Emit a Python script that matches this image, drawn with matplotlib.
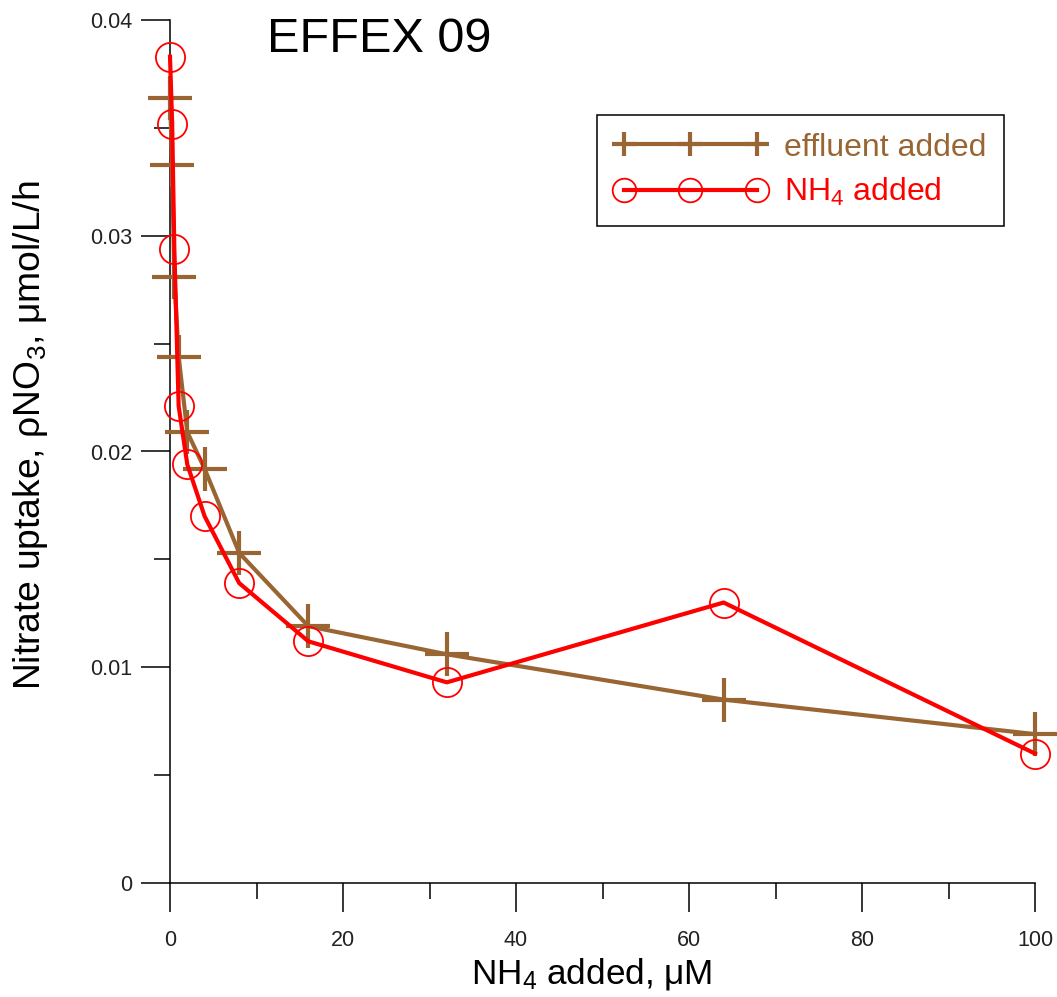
import numpy as np
import matplotlib
matplotlib.use('Agg')
import matplotlib.pyplot as plt
from matplotlib.lines import Line2D

plt.rcParams['font.family'] = ['Liberation Sans', 'DejaVu Sans']
plt.rcParams['mathtext.fontset'] = 'custom'
plt.rcParams['mathtext.rm'] = 'Liberation Sans'
plt.rcParams['mathtext.it'] = 'Liberation Sans:italic'

# NH4 additions (uM) and nitrate uptake for the two treatments
nh4_added = [0, 0.25, 0.5, 1, 2, 4, 8, 16, 32, 64, 100]
effluent_uptake = [0.0364, 0.0333, 0.0281, 0.0244, 0.0209, 0.0192,
                   0.0153, 0.0119, 0.0106, 0.0085, 0.0069]
nh4_uptake = [0.0383, 0.0352, 0.0294, 0.0221, 0.0194, 0.0170,
              0.0139, 0.0112, 0.0093, 0.0130, 0.0060]

x_ticks = [0, 20, 40, 60, 80, 100]
x_minor = [10, 30, 50, 70, 90]
y_ticks = [0, 0.01, 0.02, 0.03, 0.04]
y_tick_labels = ['0', '0.01', '0.02', '0.03', '0.04']
y_minor = [0.005, 0.015, 0.025, 0.035]

brown = '#996633'
red = '#ff0000'

W, H = 1057, 997
fig = plt.figure(figsize=(W / 100, H / 100), dpi=100)
ax = fig.add_axes([170 / W, 1 - 883 / H, 865 / W, 863 / H])

ax.plot(nh4_added, effluent_uptake, color=brown, lw=3, marker='+',
        ms=31, mew=3, clip_on=False, zorder=3)
ax.plot(nh4_added, nh4_uptake, color=red, lw=3, marker='o', ms=21,
        mfc='none', mec=red, mew=1.3, clip_on=False, zorder=4)

ax.set_xlim(0, 100)
ax.set_ylim(0, 0.04)
ax.set_xticks(x_ticks)
ax.set_xticks(x_minor, minor=True)
ax.set_yticks(y_ticks)
ax.set_yticklabels(y_tick_labels)
ax.set_yticks(y_minor, minor=True)

for s in ['top', 'right']:
    ax.spines[s].set_visible(False)
for s in ['left', 'bottom']:
    ax.spines[s].set_linewidth(1.1)

ax.tick_params(which='major', direction='out', length=21, width=1.1,
               labelsize=15.5, labelcolor='#222222')
ax.tick_params(which='minor', direction='out', length=11.5, width=1.1)
ax.tick_params(axis='x', which='major', pad=13)
ax.tick_params(axis='y', which='major', pad=6)

ax.set_xlabel(r'NH$_4$ added, μM', fontsize=25.3)
ax.xaxis.set_label_coords(592 / W, 1 - 956 / H, transform=fig.transFigure)
ax.set_ylabel(r'Nitrate uptake, ρNO$_3$, μmol/L/h', fontsize=26.8)
ax.yaxis.set_label_coords(50 / W, 1 - 435 / H, transform=fig.transFigure)

fig.text(379 / W, 1 - 40 / H, 'EFFEX 09', fontsize=35, ha='center',
         va='center')

handles = [
    Line2D([], [], color=brown, lw=3, marker='+', ms=17, mew=3),
    Line2D([], [], color=red, lw=3, marker='o', ms=17, mfc='none',
           mec=red, mew=1.3),
]
leg = ax.legend(handles, ['effluent added', r'NH$_4$ added'],
                loc='upper left', bbox_to_anchor=(597 / W, 1 - 115 / H),
                bbox_transform=fig.transFigure, borderaxespad=0,
                numpoints=3, handlelength=4.75, fontsize=23,
                labelcolor='linecolor', fancybox=False, framealpha=1,
                edgecolor='black', borderpad=0.55, labelspacing=0.43,
                handletextpad=0.55)
leg.get_frame().set_linewidth(1.1)

fig.savefig('out.png', dpi=100)
